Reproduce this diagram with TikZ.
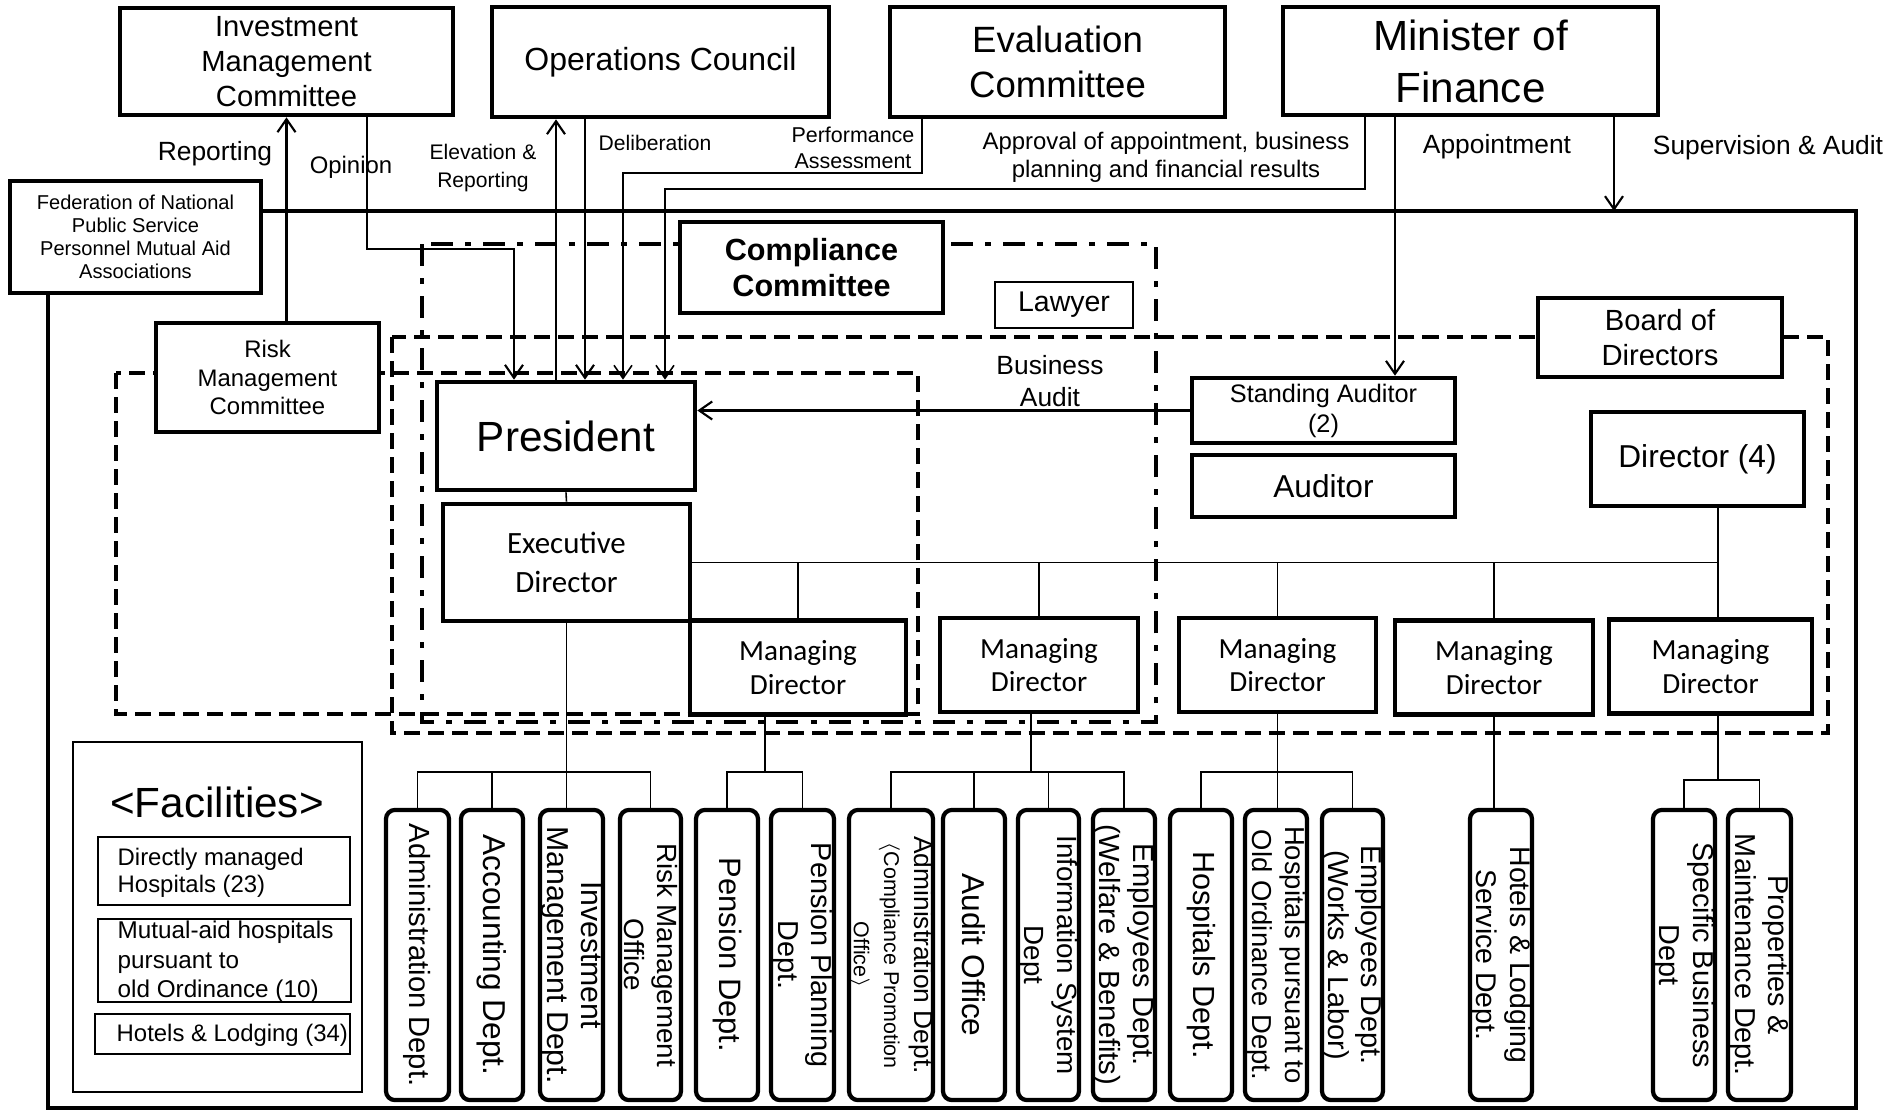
\documentclass[tikz,border=0pt]{standalone}
\usepackage{fontspec}
\setmainfont{Liberation Sans}
\newfontfamily\calfont{Carlito}
\usetikzlibrary{arrows.meta}
\newcommand{\fsz}[2]{\fontsize{#1}{#2}\selectfont}

\begin{document}
\begin{tikzpicture}[
        x=0.01cm, y=-0.01cm,
        box/.style={draw, line width=1.3pt, fill=white, align=center, inner sep=0pt},
        thinbox/.style={draw, line width=0.6pt, fill=white, align=center, inner sep=0pt},
        mdbox/.style={box, minimum height=9.4mm, font=\calfont\fsz{8.3}{9.5}},
        deptbox/.style={draw, line width=1.2pt, fill=white, rounded corners=0.9mm, minimum height=29mm, minimum width=6.2mm, inner sep=0pt},
        depttext/.style={rotate=-90, align=center, inner sep=0pt, font=\fsz{8.3}{9.6}},
        lbl/.style={align=center, inner sep=0pt},
        dashbox/.style={line width=1.2pt, dash pattern=on 1.6mm off 0.8mm},
        dashdotbox/.style={line width=1.2pt, dash pattern=on 2.2mm off 1.2mm on 0.6mm off 1.2mm},
        arrow/.style={-{Straight Barb[length=1.3mm, width=1.8mm]}, line width=0.6pt},
        link/.style={line width=0.45pt}
    ]
        \useasboundingbox (0,0) rectangle (1902,1111);

        % Outer frame and dashed groups
        \draw[line width=1.3pt] (48,211) rectangle (1856,1108);
        \draw[dashbox] (116,373) rectangle (918,714);
        \draw[dashbox] (392,337) rectangle (1828,733);
        \draw[dashdotbox] (422,244) rectangle (1156,722);

        % Top committees
        \node[box, minimum width=33.3mm, minimum height=10.7mm, font=\fsz{8.3}{10}] (imc) at (286.5,61.5) {Investment\\Management\\Committee};
        \node[box, minimum width=33.7mm, minimum height=11mm, font=\fsz{9.1}{11}] (opc) at (660.5,62) {Operations Council};
        \node[box, minimum width=33.5mm, minimum height=11mm, font=\fsz{10.4}{12.8}] (evc) at (1057.5,62) {Evaluation\\Committee};
        \node[box, minimum width=37.5mm, minimum height=10.8mm, font=\fsz{12}{14.8}] (mof) at (1470.5,61) {Minister of\\Finance};
        \node[box, minimum width=25.1mm, minimum height=11.2mm, font=\fsz{5.7}{6.6}] (fed) at (135.5,237) {Federation of National\\Public Service\\Personnel Mutual Aid\\Associations};

        % Inside the association
        \node[box, minimum width=26.3mm, minimum height=9.1mm, font=\bfseries\fsz{8.7}{10.4}] (cmp) at (811.5,267.5) {Compliance\\Committee};
        \node[thinbox, minimum width=13.8mm, minimum height=4.6mm, font=\fsz{8.1}{10}] (law) at (1064,305) {Lawyer};
        \node[box, minimum width=22.3mm, minimum height=10.9mm, font=\fsz{6.8}{8.2}] (rmc) at (267.5,377.5) {Risk\\Management\\Committee};
        \node[box, minimum width=24.4mm, minimum height=7.9mm, font=\fsz{8.3}{10}] (bod) at (1660,337.5) {Board of\\Directors};
        \node[box, minimum width=25.8mm, minimum height=10.8mm, font=\fsz{12}{14}] (pres) at (566,436) {President};
        \node[box, minimum width=26.3mm, minimum height=6.5mm, font=\fsz{7.2}{8.5}] (sta) at (1323.5,410.5) {Standing Auditor\\(2)};
        \node[box, minimum width=26.3mm, minimum height=6.2mm, font=\fsz{9}{11}] (aud) at (1323.5,486) {Auditor};
        \node[box, minimum width=21.3mm, minimum height=9.4mm, font=\fsz{9}{11}] (dir) at (1697.5,459) {Director (4)};
        \node[box, minimum width=24.7mm, minimum height=11.7mm, font=\calfont\fsz{8.8}{11}] (ed) at (566.5,562.5) {Executive\\Director};

        % Managing directors
        \node[mdbox, minimum width=21.6mm] (md1) at (798,667.5) {Managing\\Director};
        \node[mdbox, minimum width=19.8mm] (md2) at (1039,665) {Managing\\Director};
        \node[mdbox, minimum width=19.7mm] (md3) at (1277.5,665) {Managing\\Director};
        \node[mdbox, minimum width=19.8mm] (md4) at (1494,667.5) {Managing\\Director};
        \node[mdbox, minimum width=20.3mm] (md5) at (1710.5,666.5) {Managing\\Director};

        % Facilities
        \node[thinbox, minimum width=28.9mm, minimum height=35mm] (fac) at (217.5,917) {};
        \node[lbl, font=\fsz{12}{14}] (facT) at (217,802) {<Facilities>};
        \node[thinbox, minimum width=25.2mm, minimum height=6.8mm] (fac1) at (224,871) {};
        \node[thinbox, minimum width=25.3mm, minimum height=8.3mm] (fac2) at (224.5,960.5) {};
        \node[thinbox, minimum width=25.5mm, minimum height=4mm] (fac3) at (222.5,1034) {};
        \node[lbl, anchor=west, align=left, font=\fsz{6.8}{7.6}] (fac1t) at (117,873) {Directly managed\\Hospitals (23)};
        \node[lbl, anchor=west, align=left, font=\fsz{6.9}{8.4}] (fac2t) at (117,962) {Mutual-aid hospitals\\pursuant to\\old Ordinance (10)};
        \node[lbl, anchor=west, align=left, font=\fsz{6.8}{8}] (fac3t) at (116,1035) {Hotels \& Lodging (34)};

        % Departments
        \node[deptbox, minimum width=6.3mm] (d1) at (417.5,955) {};
        \node[deptbox] (d2) at (492,955) {};
        \node[deptbox, minimum width=6.3mm] (d3) at (571.5,955) {};
        \node[deptbox, minimum width=6.1mm] (d4) at (650.5,955) {};
        \node[deptbox] (d5) at (727,955) {};
        \node[deptbox, minimum width=6.3mm] (d6) at (802.5,955) {};
        \node[deptbox, minimum width=8.4mm] (d7) at (891,955) {};
        \node[deptbox] (d8) at (974,955) {};
        \node[deptbox, minimum width=6.1mm] (d9) at (1048.5,955) {};
        \node[deptbox] (d10) at (1124,955) {};
        \node[deptbox] (d11) at (1201,955) {};
        \node[deptbox] (d12) at (1276,955) {};
        \node[deptbox, minimum width=6.1mm] (d13) at (1352.5,955) {};
        \node[deptbox] (d14) at (1501,955) {};
        \node[deptbox] (d15) at (1684,955) {};
        \node[deptbox, minimum width=6.3mm] (d16) at (1759.5,955) {};

        \node[depttext] (d1t) at (d1.center) {Administration Dept.};
        \node[depttext, font=\fsz{9}{10}] (d2t) at (d2.center) {Accounting Dept.};
        \node[depttext, font=\fsz{8.6}{9.8}] (d3t) at (d3.center) {Investment\\Management Dept.};
        \node[depttext, font=\fsz{7.9}{9.4}] (d4t) at (d4.center) {Risk Management\\Office};
        \node[depttext, font=\fsz{8.8}{10}] (d5t) at (d5.center) {Pension Dept.};
        \node[depttext, font=\fsz{8.2}{9.6}] (d6t) at (d6.center) {Pension Planning\\Dept.};
        \node[depttext, font=\fsz{7.5}{8.6}] (d7t) at (d7.center) {Administration Dept.\\\fsz{6.1}{5.8}$\langle$Compliance Promotion\\\fsz{6.1}{5.8}Office$\rangle$};
        \node[depttext, font=\fsz{9}{10}] (d8t) at (d8.center) {Audit Office};
        \node[depttext, font=\fsz{7.9}{9.4}] (d9t) at (d9.center) {Information System\\Dept};
        \node[depttext] (d10t) at (d10.center) {Employees Dept.\\(Welfare \& Benefits)};
        \node[depttext, font=\fsz{8.7}{10}] (d11t) at (d11.center) {Hospitals Dept.};
        \node[depttext, font=\fsz{7.8}{9.4}] (d12t) at (d12.center) {Hospitals pursuant to\\Old Ordinance Dept.};
        \node[depttext, font=\fsz{8.2}{9.6}] (d13t) at (d13.center) {Employees Dept.\\(Works \& Labor)};
        \node[depttext, font=\fsz{8.1}{9.6}] (d14t) at (d14.center) {Hotels \& Lodging\\Service Dept.};
        \node[depttext, font=\fsz{8.2}{9.6}] (d15t) at (d15.center) {Specific Business\\Dept};
        \node[depttext, font=\fsz{8.2}{9.6}] (d16t) at (d16.center) {Properties \&\\Maintenance Dept.};

        % Reporting lines between committees and president
        \coordinate (op1) at (367,249);
        \coordinate (op2) at (514,249);
        \coordinate (el) at (556,300);
        \coordinate (dl) at (585,300);
        \coordinate (pa1) at (922,173);
        \coordinate (pa2) at (623,173);
        \coordinate (ap1) at (1365,189);
        \coordinate (ap2) at (665,189);
        \coordinate (apt) at (1395,300);
        \coordinate (sva) at (1614,211);

        \draw[arrow] (imc.south |- rmc.north) -- (imc.south);
        \draw[arrow] (imc.south -| op1) -- (op1) -- (op2) -- (op2 |- pres.north);
        \draw[arrow] (pres.north -| el) -- (opc.south -| el);
        \draw[arrow] (opc.south -| dl) -- (pres.north -| dl);
        \draw[arrow, line width=0.45pt] (evc.south -| pa1) -- (pa1) -- (pa2) -- (pres.north -| pa2);
        \draw[arrow, line width=0.45pt] (mof.south -| ap1) -- (ap1) -- (ap2) -- (pres.north -| ap2);
        \draw[arrow] (mof.south -| apt) -- (sta.north -| apt);
        \draw[arrow] (mof.south -| sva) -- (sva);
        \draw[arrow] (sta.west) -- (sta.west -| pres.east);

        % Line labels
        \node[lbl, font=\fsz{7.5}{9}] (lrep) at (215,154) {Reporting};
        \node[lbl, font=\fsz{6.8}{8}] (lop) at (351,167) {Opinion};
        \node[lbl, font=\fsz{6}{7.7}] (lel) at (483,168) {Elevation \&\\Reporting};
        \node[lbl, font=\fsz{6}{7.7}] (ldl) at (655,143) {Deliberation};
        \node[lbl, font=\fsz{6.1}{7.3}] (lpa) at (853,148) {Performance\\Assessment};
        \node[lbl, font=\fsz{6.8}{8}] (lap) at (1166,157) {Approval of appointment, business\\planning and financial results};
        \node[lbl, font=\fsz{7.5}{9}] (lapt) at (1497,147) {Appointment};
        \node[lbl, font=\fsz{7.5}{9}] (lsva) at (1768,148) {Supervision \& Audit};
        \node[lbl, font=\fsz{7.5}{9}] (lba) at (1050,381) {Business\\Audit};

        % Org lines
        \coordinate (b1) at (0,772);
        \coordinate (b2) at (765,772);
        \coordinate (b3) at (1031,772);
        \coordinate (b5) at (1718,780);
        \draw[link] (pres.south) -- (ed.north);
        \draw[link] (ed.east) -- (ed.east -| b5);
        \draw[link] (dir.south -| b5) -- (md5.north -| b5);
        \foreach \m in {md1,md2,md3,md4}
            \draw[link] (\m.north |- ed.east) -- (\m.north);

        % Department lines
        \draw[link] (ed.south) -- (ed.south |- d3.north);
        \draw[link] (d1.north) |- (d4.north |- b1) -- (d4.north);
        \draw[link] (d2.north) -- (d2.north |- b1);
        \draw[link] (md1.south -| b2) -- (b2);
        \draw[link] (d5.north) |- (b2) -| (d6.north);
        \draw[link] (md2.south -| b3) -- (b3);
        \draw[link] (d7.north) |- (b3) -| (d10.north);
        \draw[link] (d8.north) -- (d8.north |- b1);
        \draw[link] (d9.north) -- (d9.north |- b1);
        \draw[link] (md3.south) -- (md3.south |- d12.north);
        \draw[link] (d11.north) |- (d13.north |- b1) -- (d13.north);
        \draw[link] (md4.south) -- (md4.south |- d14.north);
        \draw[link] (md5.south -| b5) -- (b5);
        \draw[link] (d15.north) |- (b5) -| (d16.north);
    \end{tikzpicture}
\end{document}
